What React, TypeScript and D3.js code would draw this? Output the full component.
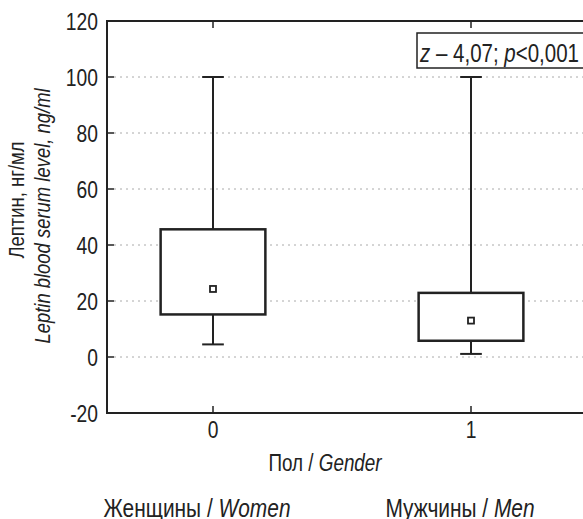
import React from "react";
import * as d3 from "d3";

const categories = [0, 1];
const categoryRu = ["Женщины", "Мужчины"];
const categoryEn = ["Women", "Men"];
const whiskerLow = [4.5, 1.1];
const q1 = [15.2, 5.8];
const mean = [24.3, 13.0];
const q3 = [45.6, 22.9];
const whiskerHigh = [100, 100];
const yTicks = [-20, 0, 20, 40, 60, 80, 100, 120];

const W = 583;
const H = 519;
const FONT = "'Liberation Sans', Arial, sans-serif";
const NARROW = 0.82;

function Txt(props: { x: number; y: number; rotate?: number; anchor?: string; size: number; italic?: boolean; children: React.ReactNode }) {
  const { x, y, rotate = 0, anchor = "start", size, italic, children } = props;
  return (
    <g transform={`translate(${x},${y}) rotate(${rotate}) scale(${NARROW},1)`}>
      <text x={0} y={0} textAnchor={anchor} fontSize={size} fontStyle={italic ? "italic" : "normal"} fill="#222">
        {children}
      </text>
    </g>
  );
}

export default function App() {
  const left = 107;
  const top = 21;
  const bottom = 413;
  const right = 600;
  const y = d3.scaleLinear().domain([-20, 120]).range([bottom, top]);
  const x = d3.scaleLinear().domain([0, 1]).range([213, 471]);
  const step = x(1) - x(0);
  const boxHalf = step * 0.203;
  const capHalf = step * 0.042;
  const tickLen = 7;

  return (
    <svg width={W} height={H} style={{ position: "absolute", left: 0, top: 0, background: "#fff" }} fontFamily={FONT}>
      {/* gridlines */}
      {yTicks.filter((t) => t !== -20 && t !== 120).map((t) => (
        <line key={"g" + t} x1={left + tickLen} x2={right} y1={y(t)} y2={y(t)} stroke="#aaa" strokeWidth={1} strokeDasharray="2,4" />
      ))}
      {/* y ticks */}
      {yTicks.map((t) => (
        <g key={"yt" + t}>
          <line x1={left} x2={left + tickLen} y1={y(t)} y2={y(t)} stroke="#222" strokeWidth={1.5} />
          <Txt x={left - 9} y={y(t) + 8.5} anchor="end" size={23.5}>{t}</Txt>
        </g>
      ))}
      {/* x ticks */}
      {categories.map((c) => (
        <g key={"xt" + c}>
          <line x1={x(c)} x2={x(c)} y1={bottom} y2={bottom - tickLen} stroke="#222" strokeWidth={1.5} />
          <line x1={x(c)} x2={x(c)} y1={top} y2={top + tickLen} stroke="#222" strokeWidth={1.5} />
          <Txt x={x(c)} y={bottom + 25} anchor="middle" size={23.5}>{c}</Txt>
        </g>
      ))}
      {/* frame */}
      <rect x={left} y={top} width={right - left} height={bottom - top} fill="none" stroke="#222" strokeWidth={2} />
      {/* boxes */}
      {categories.map((c, i) => (
        <g key={"b" + c} stroke="#222" fill="none">
          <line x1={x(c)} x2={x(c)} y1={y(whiskerHigh[i])} y2={y(q3[i])} strokeWidth={2} />
          <line x1={x(c)} x2={x(c)} y1={y(q1[i])} y2={y(whiskerLow[i])} strokeWidth={2} />
          <line x1={x(c) - capHalf} x2={x(c) + capHalf} y1={y(whiskerHigh[i])} y2={y(whiskerHigh[i])} strokeWidth={2} />
          <line x1={x(c) - capHalf} x2={x(c) + capHalf} y1={y(whiskerLow[i])} y2={y(whiskerLow[i])} strokeWidth={2} />
          <rect x={x(c) - boxHalf} y={y(q3[i])} width={boxHalf * 2} height={y(q1[i]) - y(q3[i])} strokeWidth={2.5} fill="#fff" />
          <rect x={x(c) - 3} y={y(mean[i]) - 3} width={6} height={6} strokeWidth={1.8} fill="#fff" />
        </g>
      ))}
      {/* annotation */}
      <rect x={417} y={33} width={200} height={35} fill="#fff" stroke="#222" strokeWidth={1.5} />
      <Txt x={420} y={62} size={25}>
        <tspan fontStyle="italic">z</tspan>
        <tspan> – 4,07; </tspan>
        <tspan fontStyle="italic">p</tspan>
        <tspan>&lt;0,001</tspan>
      </Txt>
      {/* axis titles */}
      <Txt x={325} y={471} anchor="middle" size={23}>
        <tspan>Пол / </tspan>
        <tspan fontStyle="italic">Gender</tspan>
      </Txt>
      <Txt x={24} y={200} rotate={-90} anchor="middle" size={22.5}>Лептин, нг/мл</Txt>
      <Txt x={50} y={216} rotate={-90} anchor="middle" size={22.5} italic>Leptin blood serum level, ng/ml</Txt>
      {/* category labels */}
      {categories.map((c, i) => (
        <Txt key={"cl" + c} x={i === 0 ? 197 : 460} y={517} anchor="middle" size={25.5}>
          <tspan>{categoryRu[i]} / </tspan>
          <tspan fontStyle="italic">{categoryEn[i]}</tspan>
        </Txt>
      ))}
    </svg>
  );
}
